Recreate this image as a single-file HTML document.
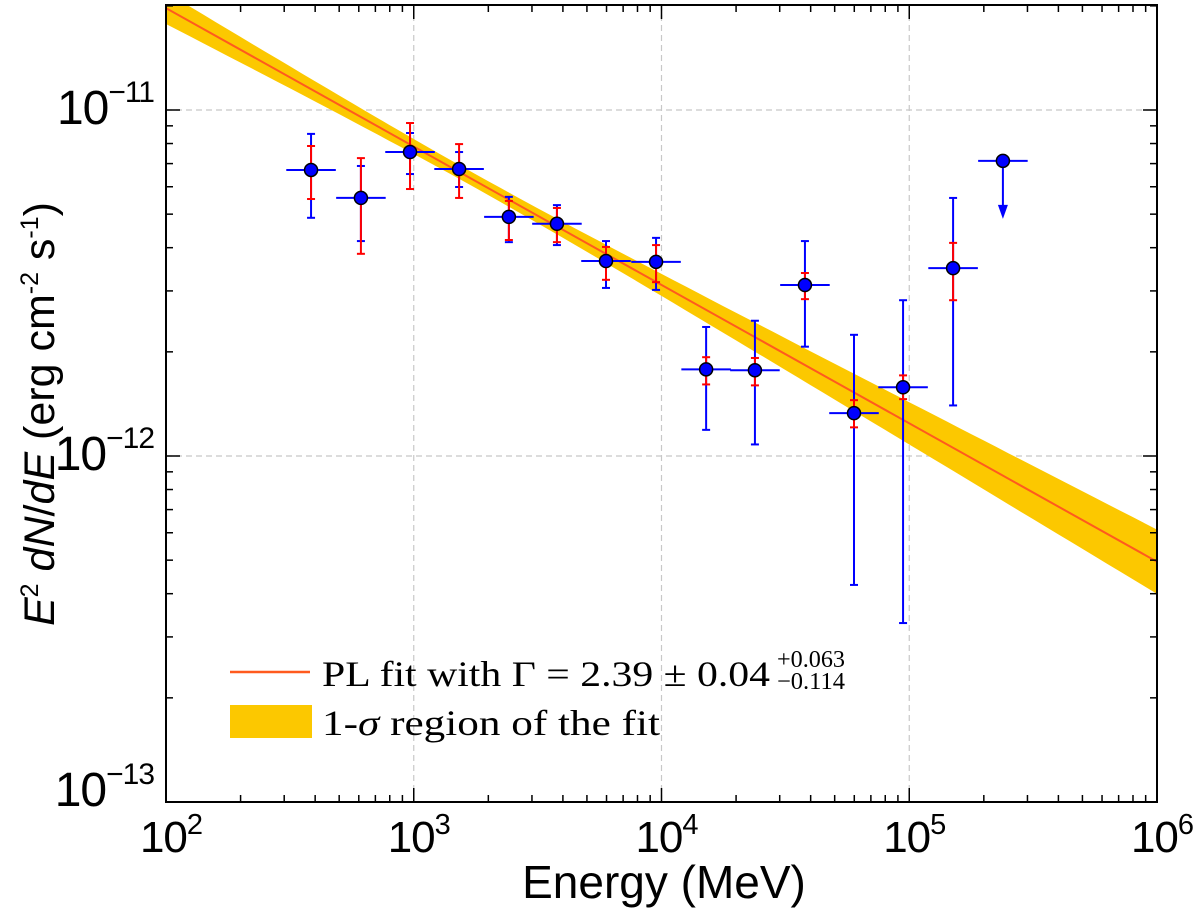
<!DOCTYPE html>
<html><head><meta charset="utf-8"><style>
html,body{margin:0;padding:0;background:#fff;}
svg{display:block;}
</style></head><body>
<svg id="chart" width="1200" height="908" viewBox="0 0 1200 908" xmlns="http://www.w3.org/2000/svg"></svg>
<script>
const energy = [385, 612, 966, 1524, 2421, 3784, 5970, 9506, 15140, 23830, 37930, 59840, 94410, 150300];
const flux = [6.71e-12, 5.57e-12, 7.56e-12, 6.75e-12, 4.91e-12, 4.69e-12, 3.66e-12, 3.64e-12, 1.78e-12, 1.77e-12, 3.12e-12, 1.33e-12, 1.58e-12, 3.49e-12];
const totHi = [8.53e-12, 6.89e-12, 8.58e-12, 7.56e-12, 5.61e-12, 5.31e-12, 4.18e-12, 4.27e-12, 2.36e-12, 2.46e-12, 4.18e-12, 2.24e-12, 2.82e-12, 5.57e-12];
const totLo = [4.88e-12, 4.18e-12, 6.53e-12, 5.99e-12, 4.15e-12, 4.07e-12, 3.06e-12, 3.02e-12, 1.19e-12, 1.08e-12, 2.07e-12, 4.24e-13, 3.29e-13, 1.40e-12];
const statHi = [7.87e-12, 7.26e-12, 9.17e-12, 7.97e-12, 5.46e-12, 5.21e-12, 4.02e-12, 4.07e-12, 1.93e-12, 1.92e-12, 3.38e-12, 1.45e-12, 1.71e-12, 4.13e-12];
const statLo = [5.53e-12, 3.84e-12, 5.91e-12, 5.57e-12, 4.21e-12, 4.15e-12, 3.23e-12, 3.18e-12, 1.61e-12, 1.60e-12, 2.84e-12, 1.21e-12, 1.46e-12, 2.82e-12];
const ulEnergy = [238800];
const ulFlux = [7.13e-12];
const fitIndex = 2.4;
const fitNorm = [1.97e-11]; // E^2 dN/dE at 100 MeV
const xTicks = [2, 3, 4, 5, 6];
const yTicks = [-13, -12, -11];

const L = 166, R = 1157, T = 5, B = 802;
const xMinLog = 2, xMaxLog = 6;
const yMinLog = -13, yMaxLog = -11 + (110 - 5) / 346;
function xs(e){ return L + (Math.log10(e) - xMinLog) / (xMaxLog - xMinLog) * (R - L); }
function xl(l){ return L + (l - xMinLog) / (xMaxLog - xMinLog) * (R - L); }
function ys(f){ return B - (Math.log10(f) - yMinLog) / (yMaxLog - yMinLog) * (B - T); }
function yl(l){ return B - (l - yMinLog) / (yMaxLog - yMinLog) * (B - T); }

const svg = document.getElementById('chart');
const NS = 'http://www.w3.org/2000/svg';
function mk(tag, attrs, parent){
  const el = document.createElementNS(NS, tag);
  for (const k in attrs) el.setAttribute(k, attrs[k]);
  (parent || svg).appendChild(el);
  return el;
}
const defs = mk('defs', {});
const cp = mk('clipPath', {id: 'clip'}, defs);
mk('rect', {x: L, y: T, width: R - L, height: B - T}, cp);

for (const l of [3,4,5]) {
  const g = mk('line', {x1: xl(l), x2: xl(l), y1: T, y2: B, stroke: '#c8c8c8', 'stroke-width': 1.2, 'stroke-dasharray': '6,4'});
  
  
}
for (const l of [-12, -11]) {
  const g = mk('line', {x1: L, x2: R, y1: yl(l), y2: yl(l), stroke: '#c8c8c8', 'stroke-width': 1.2, 'stroke-dasharray': '6,4'});
  
  
}

const plot = mk('g', {'clip-path': 'url(#clip)'});


function fitLog(l){ return Math.log10(fitNorm[0]) - (fitIndex - 2) * (l - 2); }
function bandHalf(l){ return Math.sqrt(0.02*0.02 + Math.pow(0.033*(l - 3.25), 2)); }
let up = [], dn = [];
for (let l = 1.9; l <= 6.1; l += 0.05) {
  up.push(xl(l).toFixed(1) + ',' + yl(fitLog(l) + bandHalf(l)).toFixed(1));
  dn.push(xl(l).toFixed(1) + ',' + yl(fitLog(l) - bandHalf(l)).toFixed(1));
}
const band = mk('polygon', {points: up.concat(dn.reverse()).join(' '), fill: '#fcc800'}, plot);


const fl = mk('line', {x1: xl(1.9), y1: yl(fitLog(1.9)), x2: xl(6.1), y2: yl(fitLog(6.1)), stroke: '#ff5a1e', 'stroke-width': 2}, plot);



for (let i = 0; i < energy.length; i++) {
  const g = mk('g', {}, plot);
  
  
  const x = xs(energy[i]), y = ys(flux[i]);
  const x0 = xs(energy[i] / Math.pow(10, 0.1)), x1 = xs(energy[i] * Math.pow(10, 0.1));
  mk('line', {x1: x0, x2: x1, y1: y, y2: y, stroke: '#0000ff', 'stroke-width': 2}, g);
  const yh = ys(totHi[i]), ylo = ys(totLo[i]);
  mk('line', {x1: x, x2: x, y1: yh, y2: ylo, stroke: '#0000ff', 'stroke-width': 2}, g);
  mk('line', {x1: x-4, x2: x+4, y1: yh, y2: yh, stroke: '#0000ff', 'stroke-width': 2}, g);
  mk('line', {x1: x-4, x2: x+4, y1: ylo, y2: ylo, stroke: '#0000ff', 'stroke-width': 2}, g);
  const sh = ys(statHi[i]), sl = ys(statLo[i]);
  mk('line', {x1: x, x2: x, y1: sh, y2: sl, stroke: '#ff0000', 'stroke-width': 2}, g);
  mk('line', {x1: x-4, x2: x+4, y1: sh, y2: sh, stroke: '#ff0000', 'stroke-width': 2}, g);
  mk('line', {x1: x-4, x2: x+4, y1: sl, y2: sl, stroke: '#ff0000', 'stroke-width': 2}, g);
  mk('circle', {cx: x, cy: y, r: 6.5, fill: '#0000ff', stroke: '#000', 'stroke-width': 1.5}, g);
}
for (let i = 0; i < ulEnergy.length; i++) {
  const g = mk('g', {}, plot);
  
  
  const x = xs(ulEnergy[i]), y = ys(ulFlux[i]);
  const x0 = xs(ulEnergy[i] / Math.pow(10, 0.1)), x1 = xs(ulEnergy[i] * Math.pow(10, 0.1));
  mk('line', {x1: x0, x2: x1, y1: y, y2: y, stroke: '#0000ff', 'stroke-width': 2}, g);
  mk('line', {x1: x, x2: x, y1: y, y2: y + 48, stroke: '#0000ff', 'stroke-width': 2}, g);
  mk('polygon', {points: `${x-5},${y+44} ${x+5},${y+44} ${x},${y+58}`, fill: '#0000ff'}, g);
  mk('circle', {cx: x, cy: y, r: 6.5, fill: '#0000ff', stroke: '#000', 'stroke-width': 1.5}, g);
}

const fr = mk('rect', {x: L, y: T, width: R - L, height: B - T, fill: 'none', stroke: '#000', 'stroke-width': 2});



const tg = mk('g', {stroke: '#000', 'stroke-width': 1.5});


for (let d = 2; d < 6; d++) {
  for (let m = 1; m <= 9; m++) {
    const l = d + Math.log10(m); if (l <= 2.0001) continue;
    const len = m === 1 ? 14 : 7; const x = xl(l);
    mk('line', {x1: x, x2: x, y1: B, y2: B - len}, tg);
    mk('line', {x1: x, x2: x, y1: T, y2: T + len}, tg);
  }
}
for (let d = -13; d < -10; d++) {
  for (let m = 1; m <= 9; m++) {
    const l = d + Math.log10(m); if (l <= -12.9999 || l > yMaxLog) continue;
    const len = m === 1 ? 14 : 7; const y = yl(l);
    mk('line', {x1: L, x2: L + len, y1: y, y2: y}, tg);
    mk('line', {x1: R, x2: R - len, y1: y, y2: y}, tg);
  }
}
for (const t of xTicks) {
  const tx = mk('text', {x: xl(t) + 5, y: 852, 'text-anchor': 'middle', 'font-family': 'Liberation Sans, sans-serif', 'font-size': 44, 'letter-spacing': -1});
  
  
  tx.innerHTML = '10<tspan dy="-18" font-size="29">' + t + '</tspan>';
}
for (const t of yTicks) {
  const off = t === -13 ? 4 : 14;
  const tx = mk('text', {x: 154, y: yl(t) + off, 'text-anchor': 'end', 'font-family': 'Liberation Sans, sans-serif', 'font-size': 48, 'letter-spacing': -1});
  
  
  tx.innerHTML = '10<tspan dy="-22" font-size="30">\u2212' + Math.abs(t) + '</tspan>';
}
const xt = mk('text', {x: 664, y: 898, 'text-anchor': 'middle', 'font-family': 'Liberation Sans, sans-serif', 'font-size': 46});


xt.textContent = 'Energy (MeV)';
const yt = mk('text', {x: 0, y: 0, transform: 'translate(54,414) rotate(-90)', 'text-anchor': 'middle', 'font-family': 'Liberation Sans, sans-serif', 'font-size': 43});


yt.innerHTML = '<tspan font-style="italic">E</tspan><tspan dy="-16" font-size="25">2</tspan><tspan dy="16"> </tspan><tspan font-style="italic">dN</tspan>/<tspan font-style="italic">dE</tspan> (erg cm<tspan dy="-16" font-size="25">-2</tspan><tspan dy="16"> s</tspan><tspan dy="-16" font-size="25">-1</tspan><tspan dy="16">)</tspan>';

const lg = mk('g', {});


const l1 = mk('line', {x1: 230, x2: 310, y1: 672, y2: 672, stroke: '#ff5a1e', 'stroke-width': 2.5}, lg);


const t1 = mk('text', {x: 322, y: 686, 'font-family': 'Liberation Serif, serif', 'font-size': 36, textLength: 448, lengthAdjust: 'spacingAndGlyphs'}, lg);


t1.textContent = 'PL fit with \u0393 = 2.39 \u00b1 0.04';
const t1a = mk('text', {x: 777, y: 667, 'font-family': 'Liberation Serif, serif', 'font-size': 24, textLength: 68, lengthAdjust: 'spacingAndGlyphs'}, lg);


t1a.textContent = '+0.063';
const t1b = mk('text', {x: 777, y: 689, 'font-family': 'Liberation Serif, serif', 'font-size': 24, textLength: 68, lengthAdjust: 'spacingAndGlyphs'}, lg);


t1b.textContent = '\u22120.114';
const r2 = mk('rect', {x: 230, y: 705, width: 82, height: 33, fill: '#fcc800'}, lg);


const t2 = mk('text', {x: 322, y: 735, 'font-family': 'Liberation Serif, serif', 'font-size': 36, textLength: 338, lengthAdjust: 'spacingAndGlyphs'}, lg);


t2.innerHTML = '1-<tspan font-style="italic">\u03c3</tspan> region of the fit';
</script>
</body></html>
